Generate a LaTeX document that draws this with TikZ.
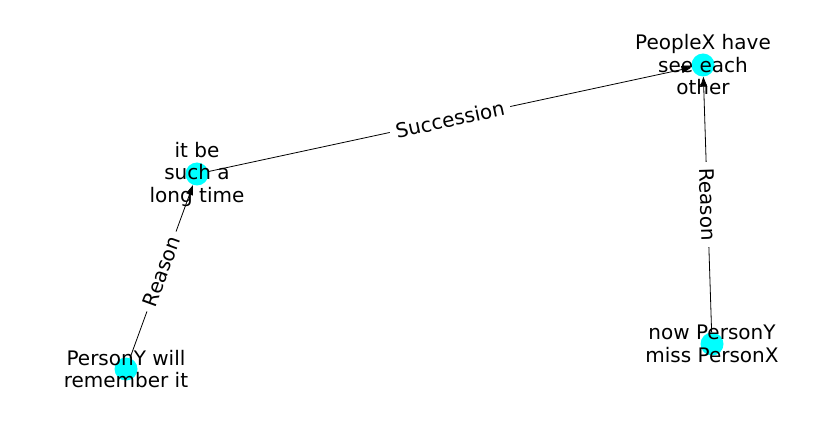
\documentclass[tikz,border=0pt]{standalone}
\usepackage{fontspec}
\setmainfont{DejaVu Sans}
\usetikzlibrary{arrows.meta}
\definecolor{vcyan}{RGB}{0,255,255}
\tikzset{vx/.append style={circle,fill=vcyan,minimum size=23pt,inner sep=0pt}}
\tikzset{tx/.append style={align=center,inner sep=0pt,text=black,font=\fontsize{20}{22.5}\selectfont}}
\tikzset{ar/.append style={-{Triangle[length=10pt,width=7pt]},line width=0.8pt}}
\tikzset{el/.append style={sloped,fill=white,inner sep=6pt,rounded corners=4pt,text=black,font=\fontsize{20}{22.5}\selectfont}}

\begin{document}
\begin{tikzpicture}[x=1pt,y=1pt]
                \useasboundingbox (0,0) rectangle (837,434);
                % vertices
                \node[vx] (time) at (197,260) {};
                \node[vx] (see) at (703,369) {};
                \node[vx] (remember) at (126,65) {};
                \node[vx] (miss) at (712,90) {};
                \path (time) edge[ar] node[el]{Succession} (see);
                \path (remember) edge[ar] node[el]{Reason} (time);
                \path (miss) edge[ar] node[el]{Reason} (see);
                % vertex texts
                \node[tx] (time-t) at (time) {it be\\such a\\long time};
                \node[tx] (see-t) at (see) {PeopleX have\\see each\\other};
                \node[tx] (remember-t) at (remember) {PersonY will\\remember it};
                \node[tx] (miss-t) at (miss) {now PersonY\\miss PersonX};
            \end{tikzpicture}
\end{document}
